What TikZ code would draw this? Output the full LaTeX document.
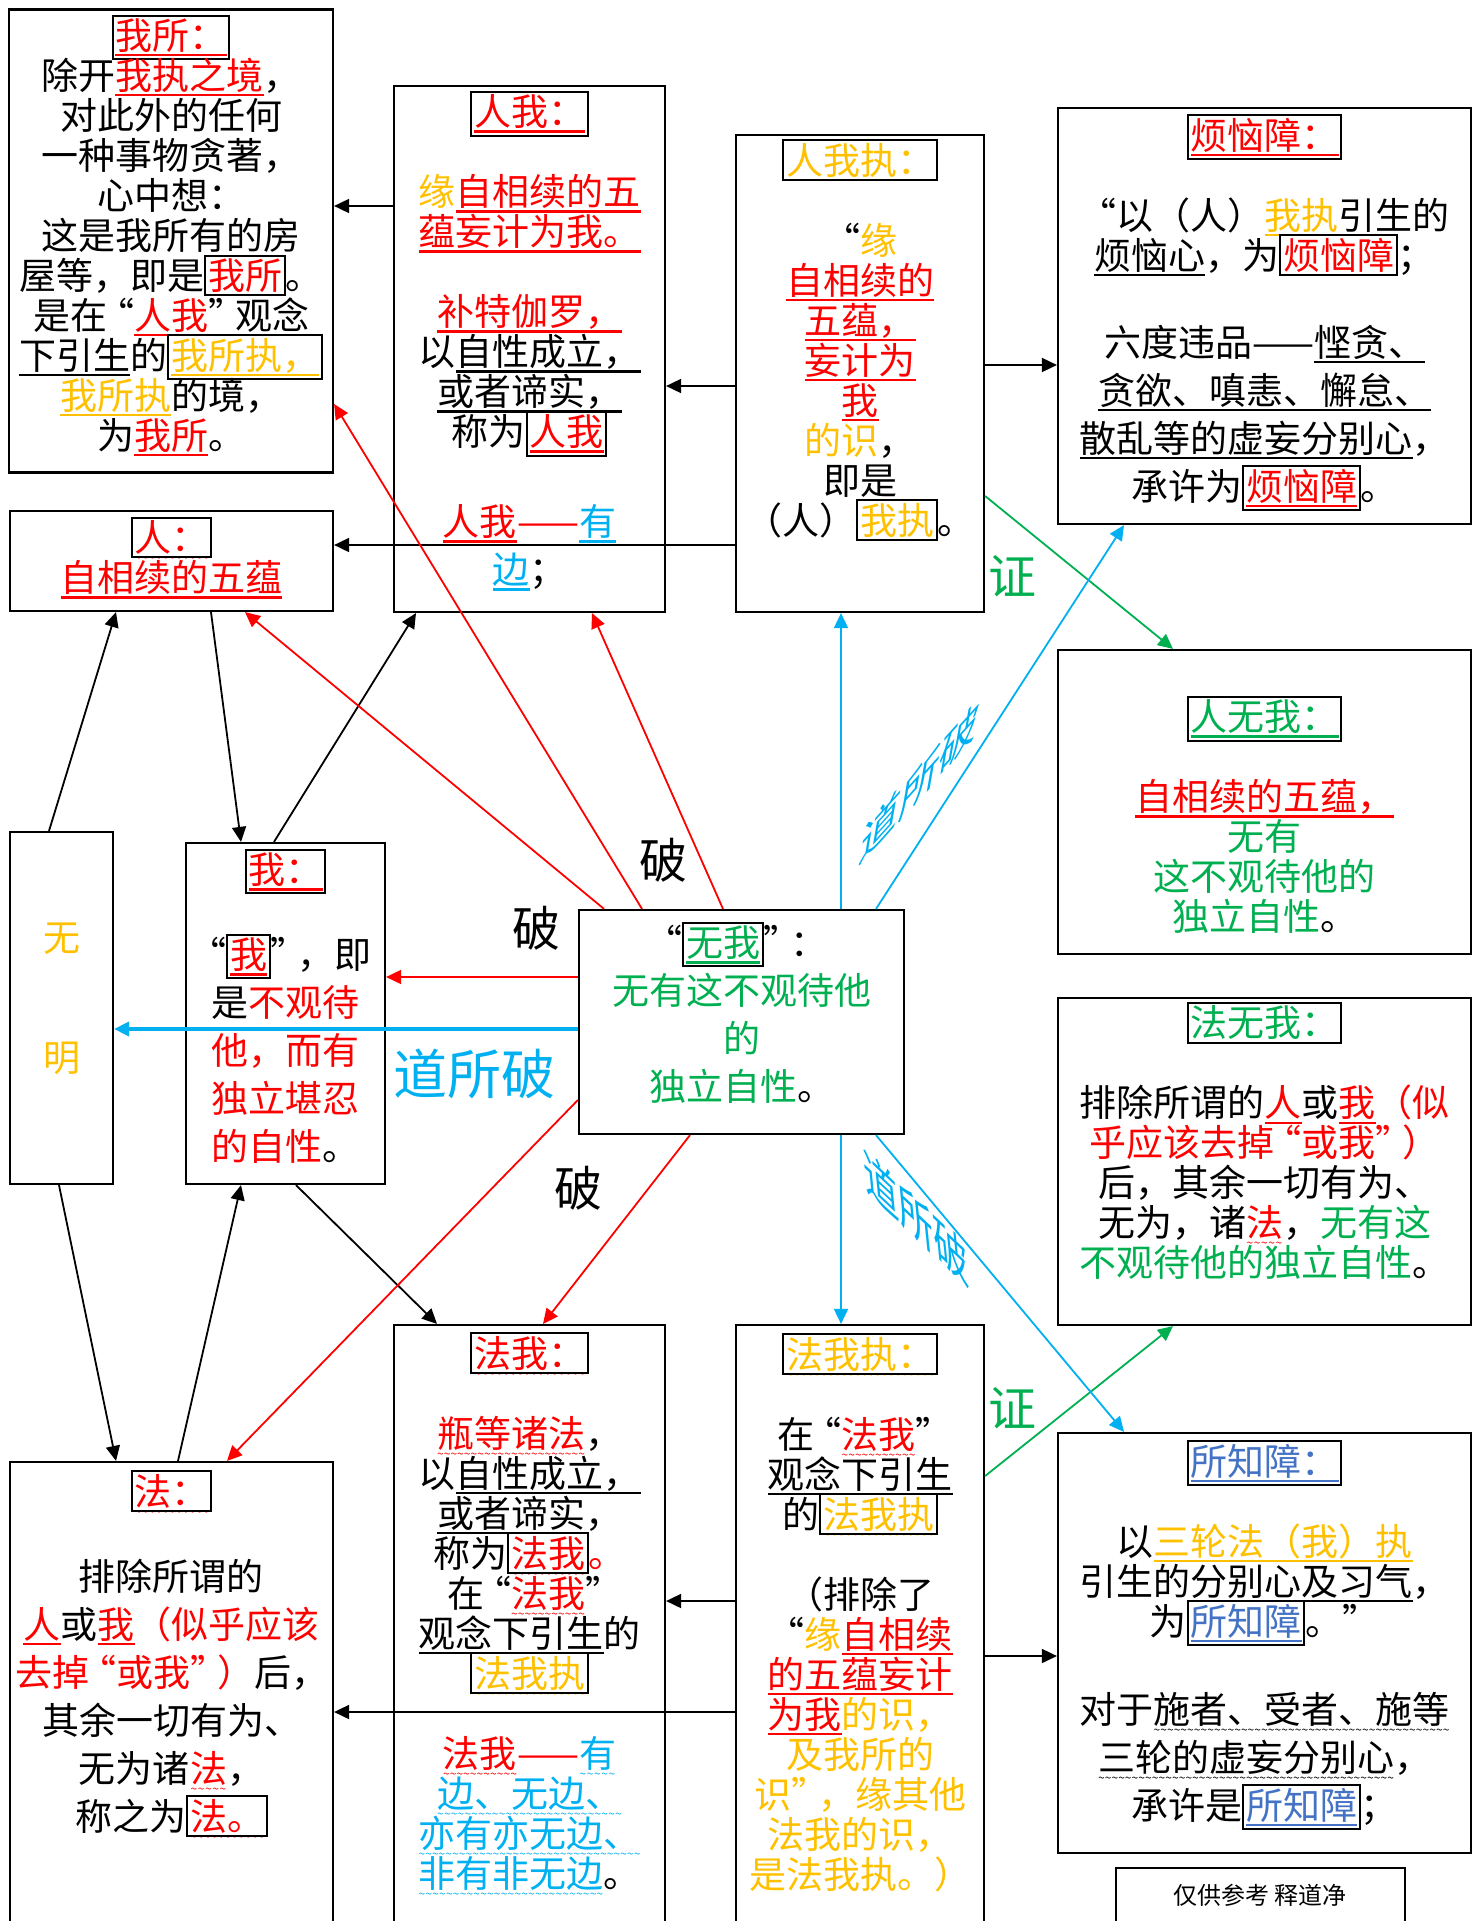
\documentclass[tikz,border=0pt]{standalone}
\usepackage{fontspec}
\setmainfont{Noto Sans CJK SC}
\usepackage{tikz}
\usetikzlibrary{arrows.meta}
\usetikzlibrary{positioning}

\definecolor{hred}{RGB}{255,0,0}
\definecolor{hgold}{RGB}{255,192,0}
\definecolor{hgreen}{RGB}{0,176,80}
\definecolor{hblue}{RGB}{0,176,240}
\definecolor{hnavy}{RGB}{68,114,196}

\setlength{\fboxsep}{0.8pt}
\setlength{\fboxrule}{1pt}
\setlength{\lineskiplimit}{-30pt}

% straight and wavy underlines
\newcommand\uln[2]{{\color{#1}\setbox0=\hbox{#2}%
  \rlap{\rule[-3.6pt]{\wd0}{1.3pt}}\box0}}
\newcommand\uwv[2]{{\color{#1}\setbox0=\hbox{#2}%
  \rlap{\raisebox{-5.5pt}[0pt][0pt]{\hbox to\wd0{\fontsize{6}{6}\selectfont
  \xleaders\hbox{\char"007E}\hfil}}}\box0}}
\newcommand\bx[1]{\fbox{#1}}
\newcommand\tred[1]{\textcolor{hred}{#1}}
\newcommand\tgold[1]{\textcolor{hgold}{#1}}
\newcommand\tgrn[1]{\textcolor{hgreen}{#1}}
% tight quotes
\newcommand\oq{\kern-5pt“}
\newcommand\cq{”\kern-5pt}

\begin{document}
\begin{tikzpicture}[x=0.5pt, y=-0.5pt,
    box/.style={draw, line width=1.1pt, inner sep=0pt},
    txt/.style={align=center, inner sep=0pt, font=\fontsize{18.5}{20}\selectfont},
    wide/.style={txt, font=\fontsize{18.5}{24}\selectfont},
    lbl/.style={inner sep=0pt, font=\fontsize{24}{24}\selectfont},
    arr/.style={-{Triangle[length=7.5pt,width=7pt]}, line width=0.9pt},
    rarr/.style={arr, hred},
    garr/.style={arr, hgreen},
    barr/.style={arr, hblue}]
  \useasboundingbox (0,0) rectangle (1482,1921);
  \clip (0,0) rectangle (1482,1921);

  % boxes
  \node[box, minimum width=162pt, minimum height=231.5pt] (wosuo) at (171,241) {};
  \node[box, minimum width=135.5pt, minimum height=263pt] (renwo) at (529.5,349) {};
  \node[box, minimum width=124pt, minimum height=238.5pt] (renwozhi) at (860,373.5) {};
  \node[box, minimum width=206.5pt, minimum height=208pt] (fannao) at (1264.5,316) {};
  \node[box, minimum width=161.5pt, minimum height=50pt] (ren) at (171.5,561) {};
  \node[box, minimum width=206.5pt, minimum height=152pt] (renwuwo) at (1264.5,802) {};
  \node[box, minimum width=51.5pt, minimum height=176pt] (wuming) at (61.5,1008) {};
  \node[box, minimum width=99.5pt, minimum height=170.5pt] (wo) at (285.5,1013.5) {};
  \node[box, minimum width=162.5pt, minimum height=112pt] (wuwo) at (741.5,1022) {};
  \node[box, minimum width=206.5pt, minimum height=163.5pt] (fawuwo) at (1264.5,1161.5) {};
  \node[box, minimum width=135.5pt, minimum height=305pt] (fawo) at (529.5,1630) {};
  \node[box, minimum width=124pt, minimum height=305pt] (fawozhi) at (860,1630) {};
  \node[box, minimum width=161.5pt, minimum height=236.5pt] (fa) at (171.5,1698.5) {};
  \node[box, minimum width=206.5pt, minimum height=210pt] (suozhi) at (1264.5,1643) {};
  \node[box, minimum width=144.5pt, minimum height=33.5pt] (note) at (1260.5,1901.5) {};

  % texts
  \node[txt, below=3pt of wosuo.north] (wosuoT) {\bx{\uln{hred}{我所：}}\\
    除开\uln{hred}{我执之境}，\\
    对此外的任何\\
    一种事物贪著，\\
    心中想：\\
    这是我所有的房\\
    屋等，即是\bx{\tred{我所}}。\\
    是在\oq\uln{hred}{人我}\cq\uln{black}{观念}\\
    \uln{black}{下引生}的\bx{\uln{hgold}{我所执，}}\\
    \uln{hgold}{我所执}的境，\\
    为\uln{hred}{我所}。};
  \node[txt, below=3pt of renwo.north] (renwoT) {\bx{\uln{hred}{人我：}}\\[20pt]
    \tgold{缘}\uln{hred}{自相续的五}\\
    \uln{hred}{蕴妄计为我。}\\[20pt]
    \uln{hred}{补特伽罗，}\\
    以\uln{black}{自性成立，}\\
    \uln{black}{或者谛实，}\\
    称为\bx{\uln{hred}{人我}}\\[25pt]
    \uln{hred}{人我}\tred{——}\uln{hblue}{有}\\[4pt]
    \uln{hblue}{边}；};
  \node[txt, below=2.5pt of renwozhi.north] (renwozhiT) {\bx{\tgold{人我执：}}\\[20pt]
    “\tgold{缘}\\
    \uln{hred}{自相续的}\\
    \uln{hred}{五蕴，}\\
    \uln{hred}{妄计为}\\
    \uln{hred}{我}\\
    \tgold{的识}，\\
    即是\\
    （人）\bx{\tgold{我执}}。};
  \node[txt, below=3.5pt of fannao.north] (fannaoT) {\bx{\uln{hred}{烦恼障：}}\\[20pt]
    “以（人）\uln{hgold}{我执}引生的\\
    \uln{black}{烦恼心}，为\bx{\tred{烦恼障}}；\\[23.5pt]
    六度违品——\uln{black}{悭贪、}\\[4pt]
    \uln{black}{贪欲、嗔恚、懈怠、}\\[4pt]
    \uln{black}{散乱等的虚妄分别心}，\\[4pt]
    承许为\bx{\uln{hred}{烦恼障}}。};
  \node[txt, below=3.5pt of ren.north] (renT) {\bx{\uwv{hred}{人：}}\\
    \uln{hred}{自相续的五蕴}};
  \node[txt, below=23.5pt of renwuwo.north] (renwuwoT) {\bx{\uln{hgreen}{人无我：}}\\[20pt]
    \uln{hred}{自相续的五蕴，}\\
    \tgrn{无有}\\
    \tgrn{这不观待他的}\\
    \tgrn{独立自性}。};
  \node[txt] (wumingT) at ([yshift=4.5pt]wuming.center)
    {\tgold{无}\\[40pt]\tgold{明}};
  \node[wide, below=3.5pt of wo.north] (woT) {\bx{\uln{hred}{我：}}\\[18.5pt]
    \oq\bx{\uln{hred}{我}}\cq，即\\
    是\tred{不观待}\\
    \tred{他，而有}\\
    \tred{独立堪忍}\\
    \tred{的自性}。};
  \node[wide, below=6.5pt of wuwo.north] (wuwoT) {\oq\bx{\uln{hgreen}{无我}}\cq：\\
    \tgrn{无有这不观待他}\\
    \tgrn{的}\\
    \tgrn{独立自性}。};
  \node[txt, below=2.5pt of fawuwo.north] (fawuwoT) {\bx{\tgrn{法无我：}}\\[20pt]
    排除所谓的\uln{hred}{人}或\uln{hred}{我}\tred{（似}\\
    \tred{乎应该去掉\oq 或我\cq）}\\
    后，其余一切有为、\\
    无为，诸\uwv{hred}{法}，\tgrn{无有这}\\
    \tgrn{不观待他的独立自性}。};
  \node[txt, below=4pt of fawo.north] (fawoT) {\bx{\uwv{hred}{法我：}}\\[20pt]
    \uwv{hred}{瓶等诸法}，\\
    以\uln{black}{自性成立，}\\
    \uln{black}{或者谛实}，\\
    称为\bx{\uwv{hred}{法我}}\tred{。}\\
    在\oq\uwv{hred}{法我}\cq\\
    \uln{black}{观念下引生}的\\
    \bx{\uwv{hgold}{法我执}}\\[20pt]
    \uwv{hred}{法我}\tred{——}\uwv{hblue}{有}\\
    \uwv{hblue}{边、无边、}\\
    \uwv{hblue}{亦有亦无边、}\\
    \uwv{hblue}{非有非无边}。};
  \node[txt, below=4.5pt of fawozhi.north] (fawozhiT) {\bx{\uwv{hgold}{法我执：}}\\[20pt]
    在\oq\uwv{hred}{法我}\cq\\
    \uln{black}{观念下引生}\\
    的\bx{\uwv{hgold}{法我执}}\\[20pt]
    （排除了\\
    “\tgold{缘}\uln{hred}{自相续}\\
    \uln{hred}{的五蕴妄计}\\
    \uln{hred}{为我}\tgold{的识，}\\
    \tgold{及我所的}\\
    \tgold{识\cq，缘其他}\\
    \tgold{法我的识，}\\
    \tgold{是法我执。）}};
  \node[wide, below=4.5pt of fa.north] (faT) {\bx{\uwv{hred}{法：}}\\[18.5pt]
    排除所谓的\\
    \uln{hred}{人}或\uln{hred}{我}\tred{（似乎应该}\\
    \tred{去掉\oq 或我\cq）}后，\\
    其余一切有为、\\
    无为诸\uwv{hred}{法}，\\
    称之为\bx{\uwv{hred}{法。}}};
  \node[txt, below=4pt of suozhi.north] (suozhiT) {\bx{\uln{hnavy}{所知障：}}\\[20pt]
    以\uln{hgold}{三轮法（我）执}\\
    引生的\uln{black}{分别心及习气}，\\
    为\bx{\uln{hnavy}{所知障}}。”\\[24pt]
    对于\uwv{black}{施者、受者、施等}\\[4pt]
    \uwv{black}{三轮的虚妄分别心}，\\[4pt]
    承许是\bx{\uln{hnavy}{所知障}}；};
  \node[inner sep=0pt, font=\fontsize{12}{14}\selectfont] (noteT) at (1260,1895) {仅供参考\ 释道净};

  % labels
  \node[lbl] (po1) at (663,860) {破};
  \node[lbl] (po2) at (536,928) {破};
  \node[lbl] (po3) at (578,1188) {破};
  \node[lbl, hgreen] (zheng1) at (1012,576) {证};
  \node[lbl, hgreen] (zheng2) at (1012,1408) {证};
  \node[lbl, hblue, font=\fontsize{27}{27}\selectfont] (dao1) at (474,1074) {道所破};
  \node[lbl, hblue, font=\fontsize{22}{22}\selectfont, cm={0.9,1.0,0.19,1.1,(0,0)}] (dao2) at (920,782) {道所破};
  \node[lbl, hblue, font=\fontsize{22}{22}\selectfont, cm={0.8,-0.75,-0.12,1.2,(0,0)}] (dao3) at (916,1218) {道所破};

  % black connectors
  \draw[arr] (renwo.west |- 0,206) -- (wosuo.east |- 0,206);
  \draw[arr] (renwozhi.west |- 0,386) -- (renwo.east |- 0,386);
  \draw[arr] (renwozhi.east |- 0,365) -- (fannao.west |- 0,365);
  \draw[arr] (renwozhi.west |- 0,545) -- (ren.east |- 0,545);
  \draw[arr] (fawozhi.west |- 0,1601) -- (fawo.east |- 0,1601);
  \draw[arr] (fawozhi.east |- 0,1656) -- (suozhi.west |- 0,1656);
  \draw[arr] (fawozhi.west |- 0,1712) -- (fa.east |- 0,1712);
  \draw[arr] (49,0 |- wuming.north) -- (116,0 |- ren.south);
  \draw[arr] (211,0 |- ren.south) -- (241,0 |- wo.north);
  \draw[arr] (274,0 |- wo.north) -- (416,0 |- renwo.south);
  \draw[arr] (59,0 |- wuming.south) -- (116,0 |- fa.north);
  \draw[arr] (178,0 |- fa.north) -- (241,0 |- wo.south);
  \draw[arr] (296,0 |- wo.south) -- (437,0 |- fawo.north);

  % green
  \draw[garr] (renwozhi.east |- 0,496) -- (1173,0 |- renwuwo.north);
  \draw[garr] (fawozhi.east |- 0,1476) -- (1173,0 |- fawuwo.south);

  % red
  \draw[rarr] (642,0 |- wuwo.north) -- (wosuo.east |- 0,404);
  \draw[rarr] (604,0 |- wuwo.north) -- (245,0 |- ren.south);
  \draw[rarr] (723,0 |- wuwo.north) -- (592,0 |- renwo.south);
  \draw[rarr] (wuwo.west |- 0,977) -- (wo.east |- 0,977);
  \draw[rarr] (wuwo.west |- 0,1100) -- (227,0 |- fa.north);
  \draw[rarr] (690,0 |- wuwo.south) -- (543,0 |- fawo.north);

  % blue
  \draw[barr, line width=1.8pt] (wuwo.west |- 0,1029) -- (wuming.east |- 0,1029);
  \draw[barr] (841,0 |- wuwo.north) -- (841,0 |- renwozhi.south);
  \draw[barr] (876,0 |- wuwo.north) -- (1124,0 |- fannao.south);
  \draw[barr] (841,0 |- wuwo.south) -- (841,0 |- fawozhi.north);
  \draw[barr] (876,0 |- wuwo.south) -- (1124,0 |- suozhi.north);
\end{tikzpicture}
\end{document}
